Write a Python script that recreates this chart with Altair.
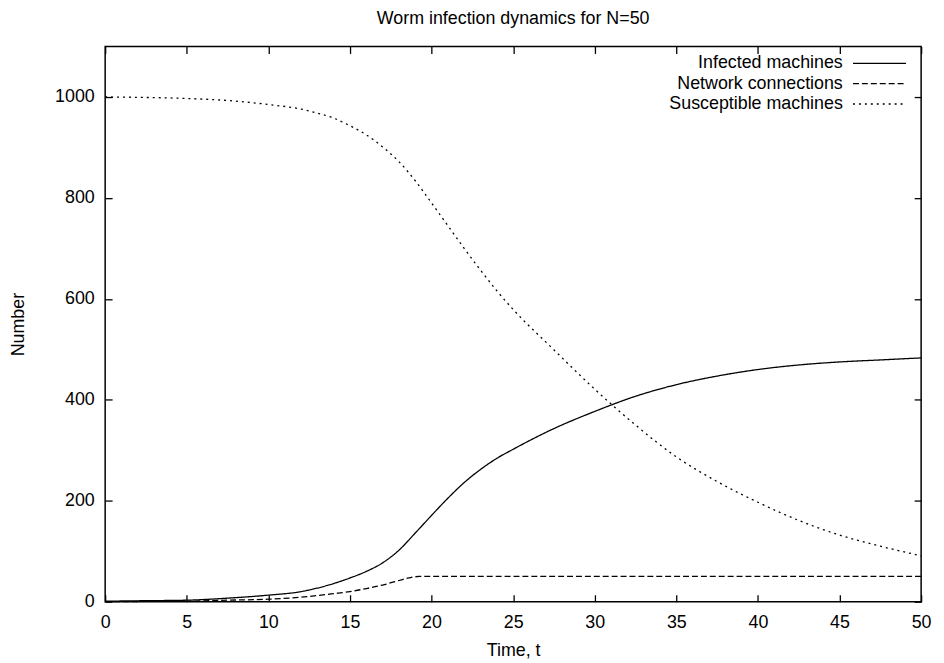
import altair as alt
import pandas as pd

# ---- data ----
T = [0, 2.5, 5, 7.5, 10, 12, 13, 14, 15, 16, 17, 18, 19, 20, 21, 22, 23, 24, 25,
     27.5, 30, 32.5, 35, 37.5, 40, 42.5, 45, 47.5, 50]
INFECTED = [1, 2, 3, 7, 13, 20, 27, 36, 47, 60, 77, 102, 136, 171, 205, 236, 262, 284, 302,
            343, 377, 407, 430, 447, 460, 469, 475, 479, 483]
SUSCEPTIBLE = [1000, 999, 997, 993, 985, 976, 968, 958, 943, 925, 901, 872, 834, 790, 745, 700, 657, 616, 579,
               499, 421, 350, 287, 238, 197, 161, 132, 110, 91]

NET_T = [0, 2.5, 5, 7.5, 10, 12, 14, 15, 16, 17, 18, 18.6, 19.25, 20, 25, 30, 35, 40, 45, 50]
NETWORK = [0, 0.5, 1, 3, 5, 9, 16, 20, 26, 33, 42, 47, 50, 50, 50, 50, 50, 50, 50, 50]

SERIES = ["Infected machines", "Network connections", "Susceptible machines"]
DASHES = [[1, 0], [6, 3], [2, 4]]

X_TICKS = [0, 5, 10, 15, 20, 25, 30, 35, 40, 45, 50]
Y_TICKS = [0, 200, 400, 600, 800, 1000]

rows = []
for t, v in zip(T, INFECTED):
    rows.append({"t": t, "value": v, "series": SERIES[0]})
for t, v in zip(NET_T, NETWORK):
    rows.append({"t": t, "value": v, "series": SERIES[1]})
for t, v in zip(T, SUSCEPTIBLE):
    rows.append({"t": t, "value": v, "series": SERIES[2]})
df = pd.DataFrame(rows)

FONT = "Liberation Sans"
FS = 18

x_scale = alt.Scale(domain=[0, 50], nice=False, zero=False)
y_scale = alt.Scale(domain=[0, 1100], nice=False)

common_axis = dict(offset=-7, tickSize=7, domain=False, grid=False,
                   tickColor="black", tickWidth=1.3, minExtent=0,
                   labelFlush=False, labelOverlap=False)

lines = alt.Chart(df).mark_line(color="black", strokeWidth=1.3, interpolate="monotone").encode(
    x=alt.X("t:Q", scale=x_scale,
            axis=alt.Axis(orient="bottom", values=X_TICKS, title="Time, t",
                          labelPadding=12.5, titlePadding=10, **common_axis)),
    y=alt.Y("value:Q", scale=y_scale,
            axis=alt.Axis(orient="left", values=Y_TICKS, title="Number", format="d",
                          labelPadding=11, titlePadding=27, **common_axis)),
    strokeDash=alt.StrokeDash(
        "series:N",
        scale=alt.Scale(domain=SERIES, range=DASHES),
        sort=SERIES,
        legend=alt.Legend(
            title=None, orient="none", legendX=771, legendY=7, direction="vertical",
            symbolType="M-2.97,0L2.97,0", symbolSize=324, symbolStrokeWidth=1.3,
            symbolStrokeColor="black", symbolFillColor="transparent",
            labelFont=FONT, labelFontSize=FS,
            labelColor="black", labelAlign="right", labelOffset=alt.ExprRef(expr="-47"),
            labelLimit=400, rowPadding=1.5, padding=0,
        ),
    ),
)

mirror = alt.Chart(df).mark_point(opacity=0).encode(
    x=alt.X("t:Q", scale=x_scale,
            axis=alt.Axis(orient="top", values=X_TICKS, labels=False, title=None, **common_axis)),
    y=alt.Y("value:Q", scale=y_scale,
            axis=alt.Axis(orient="right", values=Y_TICKS, labels=False, title=None, **common_axis)),
)

chart = alt.layer(lines, mirror).properties(
    width=823,
    height=560,
    title=alt.Title("Worm infection dynamics for N=50", font=FONT, fontSize=FS,
                    fontWeight="normal", color="black", anchor="middle", frame="group",
                    offset=17, dy=16.5, baseline="bottom"),
    autosize=alt.AutoSizeParams(type="none"),
    padding={"left": 98, "top": 36, "right": 15, "bottom": 58},
).configure_view(
    stroke="black", strokeWidth=1.5
).configure_axis(
    labelFont=FONT, labelFontSize=FS, labelColor="black",
    titleFont=FONT, titleFontSize=FS, titleFontWeight="normal", titleColor="black",
)

chart.save("out.html", embed_options={"renderer": "svg", "actions": False})
